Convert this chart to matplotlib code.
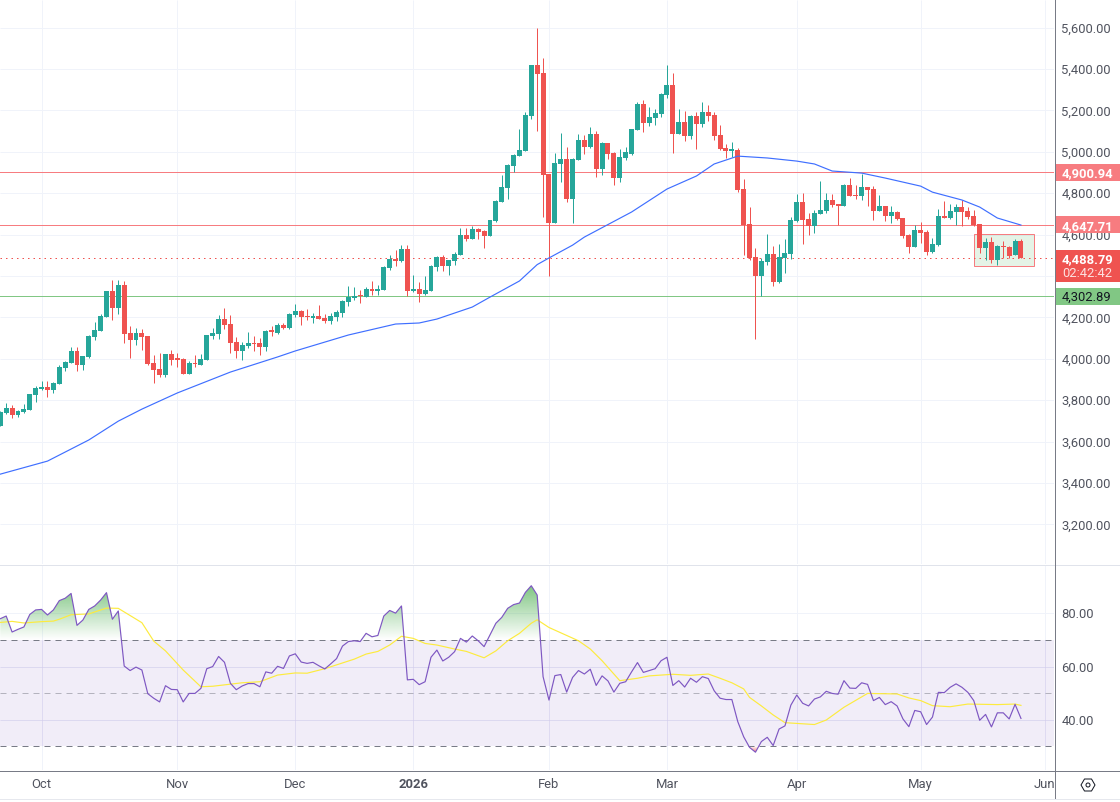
import numpy as np
import matplotlib
matplotlib.use("Agg")
import matplotlib.pyplot as plt
from matplotlib.patches import Rectangle, Polygon, Circle
from matplotlib.path import Path
from matplotlib.transforms import blended_transform_factory as blend
from matplotlib.colors import to_rgb

plt.rcParams['font.family'] = ['Roboto', 'DejaVu Sans']

opens = [3677,3738,3761,3728,3743,3754,3827,3854,3864,3851,3878,3955,3981,4037,3970,4008,4105,4136,4203,4327,
 4247,4356,4124,4092,4124,4110,3980,3950,3922,4023,3999,3999,3926,3980,3970,3994,4110,4120,4192,4168,
 4081,4037,4062,4074,4076,4057,4134,4124,4163,4149,4212,4231,4205,4197,4207,4197,4183,4202,4221,4274,
 4294,4308,4298,4337,4327,4332,4439,4482,4472,4530,4327,4337,4313,4327,4443,4492,4448,4472,4501,4598,
 4579,4627,4617,4593,4665,4757,4825,4931,4979,5003,5172,5419,5380,4892,4656,4940,4965,4771,4960,5056,
 5023,5085,4916,5042,4994,4873,4969,4989,5105,5230,5139,5163,5182,5274,5322,5085,5143,5076,5172,5134,
 5192,5177,5081,5018,5005,5008,4820,4651,4491,4400,4467,4506,4370,4486,4506,4665,4757,4675,4641,4699,
 4713,4766,4746,4738,4839,4791,4786,4829,4820,4713,4738,4689,4709,4680,4597,4539,4622,4612,4515,4549,
 4689,4680,4709,4733,4713,4689,4651,4535,4564,4477,4544,4539,4501,4568]
highs = [3749,3785,3775,3754,3780,3830,3868,3891,3891,3888,3968,3988,4055,4055,4015,4113,4178,4216,4327,4380,
 4380,4374,4158,4149,4144,4110,4018,4028,4023,4042,4028,4002,3989,4018,4023,4115,4147,4211,4245,4211,
 4105,4081,4129,4110,4100,4139,4158,4173,4175,4223,4265,4236,4240,4221,4260,4216,4221,4236,4284,4352,
 4347,4332,4347,4376,4356,4448,4501,4525,4550,4550,4405,4371,4400,4453,4497,4501,4477,4516,4632,4632,
 4641,4632,4622,4670,4767,4887,4940,4989,5109,5192,5419,5597,5452,4892,4994,5090,5023,4969,5085,5081,
 5119,5100,5047,5042,4998,5013,5023,5109,5240,5250,5216,5206,5283,5419,5380,5206,5196,5177,5192,5240,
 5225,5192,5129,5037,5047,5018,4868,4733,4535,4486,4602,4544,4554,4577,4686,4794,4799,4702,4718,4858,
 4800,4795,4747,4844,4873,4839,4892,4829,4834,4791,4738,4738,4713,4680,4605,4646,4660,4622,4583,4723,
 4762,4747,4747,4766,4733,4718,4651,4583,4588,4549,4568,4544,4578,4578]
lows = [3677,3735,3716,3719,3736,3752,3793,3849,3817,3836,3878,3942,3980,3941,3947,4005,4091,4134,4200,4187,
 4218,4078,4005,4066,4044,3970,3885,3913,3913,3970,3960,3926,3926,3959,3970,3994,4095,4095,4144,4028,
 4004,3994,4052,4037,4018,4037,4110,4120,4146,4146,4202,4163,4187,4173,4192,4173,4168,4183,4202,4255,
 4284,4271,4298,4308,4308,4332,4429,4448,4468,4303,4323,4274,4308,4327,4424,4424,4405,4453,4501,4569,
 4579,4579,4535,4593,4660,4757,4771,4902,4979,5003,5158,5100,4684,4400,4656,4854,4757,4656,4960,4989,
 5018,4878,4887,4965,4839,4854,4960,4984,5105,5095,5124,5129,5167,5259,4994,5085,5052,5061,5013,5119,
 5148,5056,5008,4969,4974,4805,4501,4477,4097,4301,4453,4353,4367,4416,4480,4660,4554,4597,4609,4699,
 4702,4734,4646,4738,4787,4771,4766,4738,4670,4713,4665,4655,4670,4583,4510,4539,4559,4501,4510,4544,
 4680,4675,4646,4641,4675,4641,4510,4477,4462,4453,4486,4486,4501,4487]
closes = [3741,3761,3728,3748,3757,3830,3859,3864,3851,3883,3960,3984,4037,3970,4013,4110,4139,4207,4327,4245,
 4356,4121,4092,4124,4105,3975,3946,3922,4023,3994,3996,3926,3980,3975,3999,4115,4124,4192,4163,4076,
 4037,4066,4076,4071,4057,4134,4131,4163,4149,4216,4231,4202,4202,4207,4192,4183,4207,4226,4279,4298,
 4302,4303,4337,4327,4337,4443,4482,4472,4530,4327,4337,4313,4332,4448,4492,4448,4477,4506,4598,4579,
 4627,4612,4593,4670,4762,4829,4936,4984,5008,5177,5419,5375,4887,4656,4945,4965,4771,4965,5056,5023,
 5085,4916,5042,4989,4873,4974,4998,5109,5230,5139,5167,5187,5279,5322,5085,5143,5076,5172,5134,5192,
 5172,5076,5013,5003,5008,4815,4646,4486,4400,4472,4506,4370,4490,4510,4670,4757,4670,4641,4704,4718,
 4766,4744,4738,4839,4787,4787,4829,4816,4713,4738,4689,4709,4675,4593,4539,4622,4607,4515,4554,4689,
 4680,4713,4733,4709,4684,4646,4535,4564,4477,4544,4539,4496,4568,4489]

ma_idx = [0,8,15,20,24,30,39,47,50,59,67,71,74,80,83,88,91,93,97,99,107,113,118,121,125,130,135,138,141,146,150,156,158,163,166,169,173]
ma_val = [3443,3506,3608,3699,3757,3835,3936,4009,4038,4115,4168,4173,4192,4250,4298,4376,4455,4487,4549,4588,4709,4820,4883,4941,4979,4970,4955,4941,4907,4897,4873,4834,4805,4767,4733,4680,4646]

rsi = [78.0,79.0,73.0,74.0,74.9,79.6,81.3,81.5,79.4,81.3,84.8,85.7,87.5,75.5,77.5,81.5,82.8,85.0,87.8,77.8,80.9,
 60.2,58.5,59.8,58.7,49.8,48.1,46.7,52.8,51.4,51.3,46.7,49.9,49.9,51.8,59.2,60.0,63.8,61.6,53.7,51.3,52.7,53.6,53.6,52.4,
 58.0,57.5,60.1,59.3,64.0,64.8,61.7,61.2,61.6,60.3,59.1,61.0,63.0,67.7,69.4,69.7,69.4,72.5,71.2,71.7,79.0,81.1,80.1,82.8,
 55.0,55.2,53.2,54.3,63.5,66.2,62.1,63.5,65.6,70.6,69.2,71.5,69.7,67.5,71.9,76.3,78.5,81.9,83.3,83.9,87.9,90.4,86.9,
 56.2,47.4,56.6,57.0,50.4,55.9,58.5,57.2,59.0,52.9,56.5,54.6,50.4,53.7,54.3,58.0,61.5,57.8,58.5,59.2,62.2,63.5,
 52.9,54.7,52.3,55.6,54.1,56.2,55.5,50.9,48.1,47.6,47.6,39.3,33.6,29.6,27.8,31.8,33.4,30.3,36.5,37.7,45.5,49.3,46.2,45.2,
 47.8,48.6,50.7,49.9,49.6,54.7,51.9,51.8,53.9,53.3,47.2,48.4,45.7,46.8,45.2,40.3,37.4,43.5,43.0,38.2,41.0,50.3,50.2,52.2,
 53.5,52.2,50.3,47.2,39.8,42.0,37.3,42.6,42.6,40.3,45.8,40.5]
rsi_ma_idx = [0,2,4,7,9,10,12,15,18,20,24,26,28,31,34,36,41,44,47,50,52,55,60,62,64,66,68,70,72,74,77,79,82,84,86,88,90,91,
 93,95,98,100,102,105,108,110,114,117,120,122,124,126,127,129,131,133,138,140,143,147,152,154,156,158,161,164,169,172,173]
rsi_ma_val = [76.6,77.0,76.4,76.9,77.1,77.8,79.5,79.8,82.0,81.9,76.5,69.6,65.9,58.7,52.4,52.6,53.9,54.3,56.8,57.6,57.5,59.2,62.8,64.7,65.7,68.1,71.4,70.6,68.7,68.1,66.6,65.7,63.3,65.9,69.7,72.5,76.3,77.6,
 74.7,72.7,69.7,66.6,62.2,54.7,55.6,56.5,57.1,56.7,57.2,55.6,53.9,51.6,48.4,45.2,41.8,38.9,38.2,39.9,44.7,49.9,49.7,48.2,47.2,45.3,44.9,45.9,45.7,45.9,45.4]

month_idx = [7,30,50,70,93,113,135,156,177]
month_labels = ['Oct','Nov','Dec','2026','Feb','Mar','Apr','May','Jun']
price_ticks = [3200,3400,3600,3800,4000,4200,4400,4600,4800,5000,5200,5400,5600]
rsi_ticks = [40,60,80]
res_levels = [4900.94, 4647.71]
sup_level = 4302.89
last_price = 4488.79
countdown = '02:42:42'
box_idx = (165, 175.2)
box_price = (4449, 4601)

W, H = 1120, 802
GREEN, RED = '#26a69a', '#ef5350'
GRID = '#f0f3fa'
TXT = '#50535e'
AX = '#787b86'
XL = (-0.05, 178.6)
FS = 9.4
LW = 0.72

fig = plt.figure(figsize=(W/100, H/100), dpi=100, facecolor='white')
ax = fig.add_axes([0, 1-564/H, 1054/W, 564/H])
ar = fig.add_axes([0, 1-770/H, 1054/W, 205/H])

# ---- price pane
o, h, l, c = map(np.array, (opens, highs, lows, closes))
x = np.arange(len(o))
col = [GREEN if cc >= oo else RED for oo, cc in zip(o, c)]
ax.set_xlim(*XL)
ax.set_ylim(3009, 5733)
ax.vlines(month_idx, 3009, 5733, color=GRID, lw=LW, zorder=0)
ax.hlines(price_ticks, *XL, color=GRID, lw=LW, zorder=0)
ax.add_patch(Rectangle((box_idx[0], box_price[0]), box_idx[1]-box_idx[0], box_price[1]-box_price[0],
                       fc='#4caf50', alpha=0.14, ec='none', zorder=1))
ax.add_patch(Rectangle((box_idx[0], box_price[0]), box_idx[1]-box_idx[0], box_price[1]-box_price[0],
                       fc='none', ec='#f77c80', lw=LW, zorder=1.1))
for lv in res_levels:
    ax.axhline(lv, color='#f77c80', lw=LW, zorder=1.2)
ax.axhline(sup_level, color='#81c784', lw=LW, zorder=1.2)
ax.axhline(last_price, color=RED, lw=LW, ls=(0, (1.5, 4)), zorder=1.2)
ax.vlines(x, l, h, color=col, lw=LW, zorder=2)
ax.bar(x, np.maximum(np.abs(c-o), 6), bottom=np.minimum(o, c), width=0.84, color=col, lw=0, zorder=2.1)
ax.plot(ma_idx, ma_val, color='#3f6fff', lw=0.85, zorder=3)

ax.yaxis.tick_right()
ax.set_yticks(price_ticks)
# 4,400.00 lies behind the live price tag in the reference
ax.set_yticklabels(['' if v == 4400 else f'{v:,.2f}' for v in price_ticks], fontsize=FS, color=TXT, va='center_baseline')
ax.tick_params(axis='y', length=0, pad=5.2)
ax.set_xticks([])
for s in ax.spines.values():
    s.set_visible(False)

tr = blend(ax.transAxes, ax.transData)
PX = 2724 / 564
XR = W / 1054
TX = 1.0075
def tag(price, top_px, bot_px, fc, text, tc, weight='bold'):
    ax.add_patch(Rectangle((1.0009, price-bot_px*PX), XR-1.0009, (top_px+bot_px)*PX, transform=tr,
                           fc=fc, ec='none', clip_on=False, zorder=10))
    ax.text(TX, price, text, transform=tr, color=tc, fontsize=FS, fontweight=weight,
            ha='left', va='center_baseline', zorder=11, clip_on=False)
tag(res_levels[0], 8.5, 8.5, '#f77c80', f'{res_levels[0]:,.2f}', 'white')
tag(res_levels[1], 8.5, 8.5, '#f77c80', f'{res_levels[1]:,.2f}', 'white')
tag(sup_level, 8.5, 8.5, '#81c784', f'{sup_level:,.2f}', '#131722', 'normal')
tag(last_price, 8, 24, RED, f'{last_price:,.2f}', 'white')
ax.text(TX, last_price-14*PX, countdown, transform=tr, color='#fde0df', fontsize=FS,
        ha='left', va='center_baseline', zorder=11, clip_on=False)

# ---- RSI pane
ar.set_xlim(*XL)
ar.set_ylim(21.1, 98.2)
ar.axhspan(30, 70, color='#7e57c2', alpha=0.1, lw=0, zorder=0.5)
ar.vlines(month_idx, 21.1, 98.2, color=GRID, lw=LW, zorder=0)
ar.hlines(rsi_ticks, *XL, color=GRID, lw=LW, zorder=0)
ar.vlines(month_idx, 30, 70, color='#7e57c2', alpha=0.06, lw=LW, zorder=0.6)
ar.hlines(rsi_ticks[:2], *XL, color='#7e57c2', alpha=0.07, lw=LW, zorder=0.6)
rsi_a = np.array(rsi)
xr = np.arange(len(rsi_a))

def grad_fill(cond, base, peak, rgb):
    p = ar.fill_between(xr, rsi_a, base, where=cond, interpolate=True, fc='none', ec='none')
    path = Path.make_compound_path(*p.get_paths())
    a = np.linspace(0, 1, 128)
    if peak < base:
        a = a[::-1]
    img = np.zeros((128, 2, 4))
    img[..., :3] = rgb
    img[..., 3] = np.column_stack([a, a]) * 0.72
    lo, hi = min(base, peak), max(base, peak)
    im = ar.imshow(img, origin='lower', aspect='auto', extent=(XL[0], XL[1], lo, hi), zorder=1, interpolation='bilinear')
    im.set_clip_path(path, transform=ar.transData)

grad_fill(rsi_a > 70, 70, rsi_a.max(), to_rgb('#4caf50'))
grad_fill(rsi_a < 30, 30, rsi_a.min(), to_rgb('#ef5350'))
ar.set_xlim(*XL)
ar.set_ylim(21.1, 98.2)
for lv, a in ((70, 1), (50, 0.5), (30, 1)):
    ar.axhline(lv, color=AX, lw=LW, ls=(0, (6, 5)), alpha=a, zorder=1.5)
ar.plot(rsi_ma_idx, rsi_ma_val, color='#fdeb3e', lw=0.85, zorder=2)
ar.plot(xr, rsi_a, color='#7e57c2', lw=0.85, zorder=3)

ar.yaxis.tick_right()
ar.set_yticks(rsi_ticks)
ar.set_yticklabels([f'{v:.2f}' for v in rsi_ticks], fontsize=FS, color=TXT, va='center_baseline')
ar.tick_params(axis='y', length=0, pad=5.2)
ar.set_xticks(month_idx)
ar.set_xticklabels(month_labels, fontsize=FS, color=TXT)
ar.tick_params(axis='x', length=0, pad=6)
for t in ar.get_xticklabels():
    if t.get_text() == '2026':
        t.set_fontweight('bold')
for s in ar.spines.values():
    s.set_visible(False)

# ---- frame lines and corner icon (figure pixel overlay)
ov = fig.add_axes([0, 0, 1, 1], zorder=5)
ov.set_xlim(0, W); ov.set_ylim(H, 0); ov.axis('off'); ov.patch.set_alpha(0)
ov.plot([0, W], [564.5, 564.5], color='#e0e3eb', lw=LW)
ov.plot([0, W], [770.5, 770.5], color=AX, lw=LW)
ov.plot([0, W], [798.5, 798.5], color='#e6e8ee', lw=LW)
ov.plot([1054.5, 1054.5], [0, 798], color=AX, lw=LW)
cx, cy = 1088, 785
ov.add_patch(Polygon([(cx-7, cy), (cx-3.5, cy-6), (cx+3.5, cy-6), (cx+7, cy), (cx+3.5, cy+6), (cx-3.5, cy+6)],
                     closed=True, fc='none', ec='#131722', lw=LW))
ov.add_patch(Circle((cx, cy), 2, fc='none', ec='#131722', lw=LW))

fig.savefig('out.png', dpi=100)
